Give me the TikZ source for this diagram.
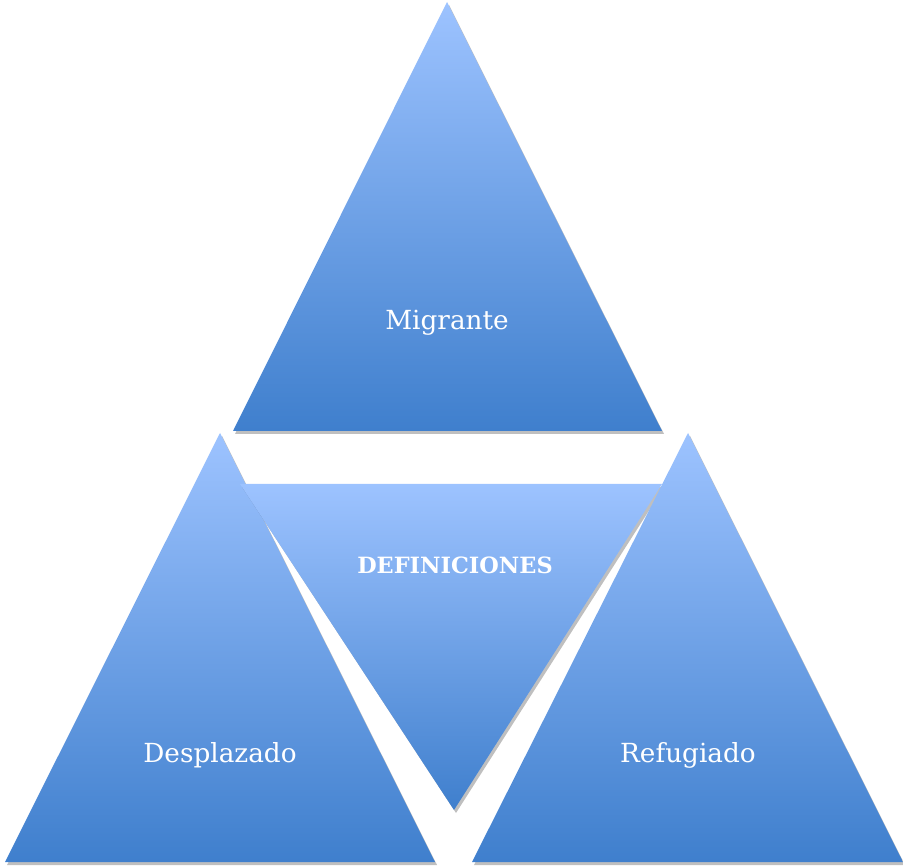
\documentclass[tikz,border=0pt]{standalone}
\usepackage{fontspec}
\setmainfont{DejaVu Serif}
\usetikzlibrary{shadows}
\definecolor{triTop}{RGB}{157,195,255}
\definecolor{triBot}{RGB}{63,127,205}
\tikzset{
  tri/.style={top color=triTop, bottom color=triBot, draw=none,
    drop shadow={shadow xshift=2pt, shadow yshift=-3pt, opacity=0.25, fill=black}},
  lbl/.style={text=white, font=\fontsize{26.3}{30}\selectfont, inner sep=0pt}
}
\begin{document}
\begin{tikzpicture}[x=1pt,y=-1pt]
\useasboundingbox (0,0) rectangle (903,866);
\path[tri] (447,2) -- (662,431) -- (233,431) -- cycle;
\path[tri] (220,433) -- (435,862) -- (5,862) -- cycle;
\path[tri] (240,484) -- (662,484) -- (454,810) -- cycle;
\path[tri] (688,433) -- (903,862) -- (472,862) -- cycle;
\node[lbl] (mig) at (447,323) {Migrante};
\node[lbl, font=\bfseries\fontsize{22.4}{26}\selectfont] (def) at (455,565) {DEFINICIONES};
\node[lbl] (des) at (220,755) {Desplazado};
\node[lbl] (ref) at (688,755) {Refugiado};
\end{tikzpicture}
\end{document}
